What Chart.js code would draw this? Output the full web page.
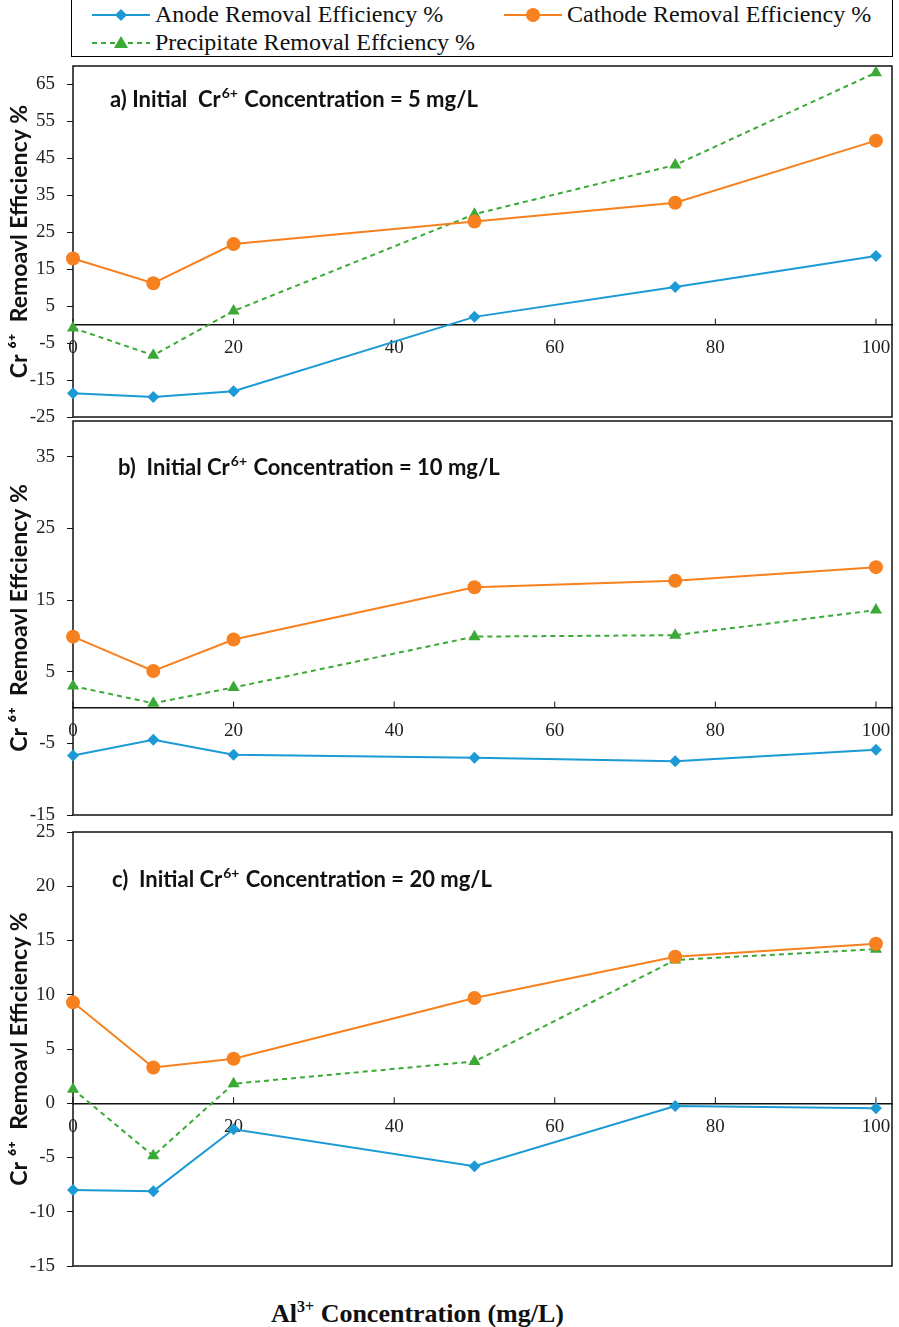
<!DOCTYPE html>
<html>
<head>
<meta charset="utf-8">
<script src="https://cdn.jsdelivr.net/npm/chart.js@4.4.1/dist/chart.umd.min.js"></script>
<style>
    body { margin: 0; background: #fff; width: 899px; height: 1327px; position: relative; overflow: hidden; }
    .panel { position: absolute; left: 0; width: 899px; }
    #legend {
        position: absolute; left: 71px; top: -1px; width: 820px; height: 56px;
        border: 1.5px solid #000; font-family: "Liberation Serif", serif; font-size: 24px; color: #111;
    }
    .item { position: absolute; display: flex; align-items: center; white-space: nowrap; }
    .item svg { margin-right: 5px; }
    #xtitle {
        position: absolute; left: 271px; top: 1298px; font-family: "Liberation Serif", serif;
        font-weight: bold; font-size: 26px; color: #111; white-space: nowrap;
    }
    #xtitle sup { font-size: 16px; }
</style>
</head>
<body>
<div id="legend">
    <div class="item" style="left:20px; top:1px;">
        <svg width="58" height="20"><line x1="0" y1="10" x2="58" y2="10" stroke="#1B9AD6" stroke-width="2"/><polygon points="29,4 35,10 29,16 23,10" fill="#1B9AD6"/></svg>
        <span>Anode Removal Efficiency %</span>
    </div>
    <div class="item" style="left:432px; top:1px;">
        <svg width="58" height="20"><line x1="0" y1="10" x2="58" y2="10" stroke="#F7801F" stroke-width="2"/><circle cx="29" cy="10" r="7" fill="#F7801F"/></svg>
        <span>Cathode Removal Efficiency %</span>
    </div>
    <div class="item" style="left:20px; top:29px;">
        <svg width="58" height="20"><line x1="0" y1="10" x2="58" y2="10" stroke="#3BA935" stroke-width="2" stroke-dasharray="5,4"/><polygon points="29,3 36,15 22,15" fill="#3BA935"/></svg>
        <span>Precipitate Removal Effciency %</span>
    </div>
</div>

<div class="panel" style="top:56px; height:370px;"><canvas id="chart-a" width="899" height="370"></canvas></div>
<div class="panel" style="top:411px; height:414px;"><canvas id="chart-b" width="899" height="414"></canvas></div>
<div class="panel" style="top:822px; height:454px;"><canvas id="chart-c" width="899" height="454"></canvas></div>

<div id="xtitle">Al<sup>3+</sup> Concentration (mg/L)</div>

<script>
// Al3+ concentration (mg/L)
const xValues = [0, 10, 20, 50, 75, 100];
const xTicks = [0, 20, 40, 60, 80, 100];

// a) Cr6+ = 5 mg/L
const anodeA = [-18.6, -19.6, -18.0, 2.1, 10.2, 18.6];
const cathodeA = [17.9, 11.2, 21.8, 27.9, 33.0, 49.8];
const precipA = [-0.9, -8.3, 3.7, 29.9, 43.2, 68.2];
const yTicksA = [-25, -15, -5, 5, 15, 25, 35, 45, 55, 65];

// b) Cr6+ = 10 mg/L
const anodeB = [-6.7, -4.5, -6.6, -7.0, -7.5, -5.9];
const cathodeB = [9.9, 5.1, 9.5, 16.8, 17.7, 19.6];
const precipB = [3.0, 0.6, 2.8, 9.9, 10.1, 13.6];
const yTicksB = [-15, -5, 5, 15, 25, 35];

// c) Cr6+ = 20 mg/L
const anodeC = [-8.0, -8.1, -2.4, -5.8, -0.25, -0.45];
const cathodeC = [9.3, 3.3, 4.1, 9.7, 13.5, 14.7];
const precipC = [1.3, -4.85, 1.8, 3.85, 13.2, 14.2];
const yTicksC = [-15, -10, -5, 0, 5, 10, 15, 20, 25];

const BLUE = '#1B9AD6';
const ORANGE = '#F7801F';
const GREEN = '#3BA935';

/**
 * Frame round the plot area, plus small upward ticks on the x axis
 */
const frame = {
    id: 'frame',
    beforeDatasetsDraw(chart) {
        const { ctx, chartArea: a, scales } = chart;
        ctx.save();
        ctx.strokeStyle = '#111';
        ctx.lineWidth = 1.5;
        ctx.strokeRect(a.left, a.top, a.right - a.left, a.bottom - a.top);
        const y0 = scales.y.getPixelForValue(0);
        ctx.lineWidth = 1;
        xTicks.forEach(v => {
            const px = scales.x.getPixelForValue(v);
            ctx.beginPath();
            ctx.moveTo(px, y0);
            ctx.lineTo(px, y0 - 6);
            ctx.stroke();
        });
        ctx.restore();
    }
};

/**
 * Panel caption with a superscript ("Cr6+")
 */
const caption = {
    id: 'caption',
    afterDraw(chart, args, opts) {
        const { ctx, chartArea: a } = chart;
        const big = 'bold 22px Lato, "Open Sans", sans-serif';
        const small = 'bold 14px Lato, "Open Sans", sans-serif';
        let x = a.left + opts.dx;
        const y = a.top + opts.dy;
        ctx.save();
        ctx.fillStyle = '#111';
        ctx.textBaseline = 'middle';
        ctx.font = big;
        ctx.fillText(opts.before, x, y);
        x += ctx.measureText(opts.before).width + 1;
        ctx.font = small;
        ctx.fillText('6+', x, y - 7);
        x += ctx.measureText('6+').width + 1;
        ctx.font = big;
        ctx.fillText(opts.after, x, y);
        ctx.restore();
    }
};

function series(label, data, color, style, radius, dash) {
    return {
        label,
        data: xValues.map((x, i) => ({ x, y: data[i] })),
        borderColor: color,
        backgroundColor: color,
        borderWidth: 2,
        borderDash: dash || [],
        pointStyle: style,
        pointRadius: radius,
        pointBorderWidth: 0,
        pointBackgroundColor: color,
        fill: false,
        tension: 0,
        clip: false
    };
}

function makeChart(id, anode, cathode, precip, yTicks, yMin, yMax, yTitle, cap, pad) {
    return new Chart(document.getElementById(id), {
        type: 'line',
        data: {
            datasets: [
                series('Anode Removal Efficiency %', anode, BLUE, 'rectRot', 6),
                series('Cathode Removal Efficiency %', cathode, ORANGE, 'circle', 7),
                series('Precipitate Removal Effciency %', precip, GREEN, 'triangle', 7, [5, 4])
            ]
        },
        options: {
            responsive: false,
            animation: false,
            layout: { padding: pad },
            scales: {
                x: {
                    type: 'linear',
                    position: { y: 0 },
                    min: 0,
                    max: 102,
                    afterBuildTicks: s => { s.ticks = xTicks.map(v => ({ value: v })); },
                    afterFit: s => { s.paddingLeft = 0; s.paddingRight = 0; },
                    grid: { display: false, drawTicks: false },
                    border: { display: true, color: '#111', width: 1.5 },
                    ticks: {
                        padding: 12,
                        color: '#222',
                        maxRotation: 0,
                        font: { family: '"Liberation Serif", serif', size: 19 }
                    }
                },
                y: {
                    type: 'linear',
                    position: 'left',
                    min: yMin,
                    max: yMax,
                    afterBuildTicks: s => { s.ticks = yTicks.map(v => ({ value: v })); },
                    afterFit: s => { s.width = 73; s.paddingTop = 0; s.paddingBottom = 0; },
                    grid: { display: true, drawOnChartArea: false, drawTicks: true, tickLength: 6, color: '#111' },
                    border: { display: false },
                    ticks: {
                        padding: 12,
                        color: '#222',
                        font: { family: '"Liberation Serif", serif', size: 19 }
                    },
                    title: {
                        display: true,
                        text: yTitle,
                        color: '#111',
                        padding: { top: 6, bottom: 0 },
                        font: { family: 'Lato, "Open Sans", sans-serif', weight: 'bold', size: 23 }
                    }
                }
            },
            plugins: {
                legend: { display: false },
                tooltip: { enabled: false },
                caption: cap
            }
        },
        plugins: [frame, caption]
    });
}

makeChart('chart-a', anodeA, cathodeA, precipA, yTicksA, -25, 70,
    'Cr \u2076\u207A  Remoavl Efficiency %',
    { before: 'a) Initial  Cr', after: ' Concentration = 5 mg/L', dx: 37, dy: 34 },
    { top: 10, bottom: 9, right: 6, left: 0 });

makeChart('chart-b', anodeB, cathodeB, precipB, yTicksB, -15, 40,
    'Cr \u2076\u207A  Remoavl Effciency %',
    { before: 'b)  Initial Cr', after: ' Concentration = 10 mg/L', dx: 45, dy: 47 },
    { top: 10, bottom: 10, right: 6, left: 0 });

makeChart('chart-c', anodeC, cathodeC, precipC, yTicksC, -15, 25,
    'Cr \u2076\u207A  Remoavl Efficiency %',
    { before: 'c)  Initial Cr', after: ' Concentration = 20 mg/L', dx: 39, dy: 48 },
    { top: 10, bottom: 10, right: 6, left: 0 });
</script>
</body>
</html>
